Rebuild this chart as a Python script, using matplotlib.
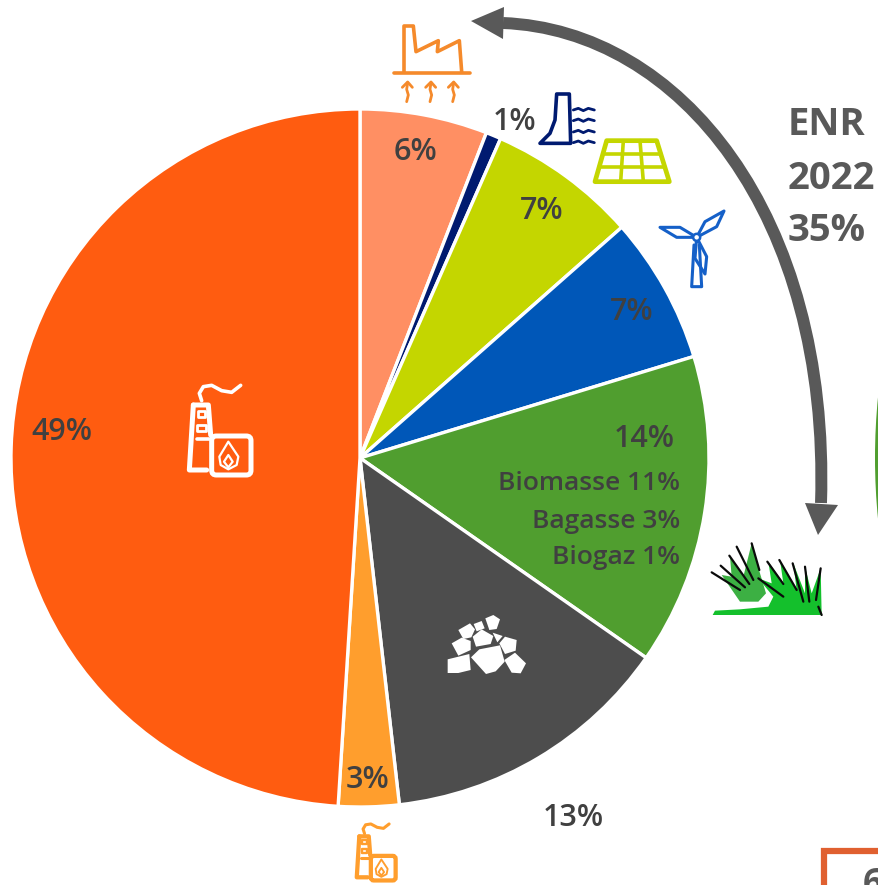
import matplotlib
matplotlib.use('Agg')
import matplotlib.pyplot as plt
from matplotlib.patches import Circle, FancyBboxPatch, PathPatch, Polygon, Rectangle
from matplotlib.path import Path
import numpy as np

# slices, clockwise from 12 o'clock
shares = [5.9, 0.7, 6.9, 6.8, 14.4, 13.5, 2.8, 49.0]
colors = ['#FF8F63', '#001A70', '#C4D600', '#0057B8', '#509E2F', '#4D4D4D', '#FF9E2D', '#FF5C10']
slice_labels = ['6%', '1%', '7%', '7%', '14%', '13%', '3%', '49%']
label_pos = [(416, 152), (515, 122), (542, 211), (632, 312), (644, 439), (573, 818), (368, 780), (62, 432)]
bio_labels = ['Biomasse 11%', 'Bagasse 3%', 'Biogaz 1%']
enr_labels = ['ENR', '2022', '35%']

TXT = '#404040'
plt.rcParams['font.family'] = ['Open Sans', 'DejaVu Sans']

W, H = 879, 885
fig = plt.figure(figsize=(8.79, 8.85), dpi=100)
ax = fig.add_axes([0, 0, 1, 1])


def fy(y):
    return H - y


def conv(points, ox=0, oy=0, s=1.0):
    return [(ox + x * s, H - (oy + y * s)) for x, y in points]


def line(points, color, lw, ox=0, oy=0, s=1.0, closed=False, z=5):
    ax.add_patch(Polygon(conv(points, ox, oy, s), closed=closed, fill=False, edgecolor=color,
                         linewidth=lw, joinstyle='round', capstyle='round', zorder=z))


def solid(points, color, ox=0, oy=0, s=1.0, z=5):
    ax.add_patch(Polygon(conv(points, ox, oy, s), closed=True, facecolor=color, edgecolor='none', zorder=z))


# main pie
ax.pie(shares, colors=colors, startangle=90, counterclock=False, center=(360, fy(458)), radius=349,
       wedgeprops={'edgecolor': 'white', 'linewidth': 2.4}, frame=True)
ax.set_xlim(0, W)
ax.set_ylim(0, H)
ax.set_aspect('auto')
ax.axis('off')

for lab, (x, y) in zip(slice_labels, label_pos):
    ax.text(x, fy(y), lab, color=TXT, fontsize=22, fontweight='semibold', ha='center', va='center', zorder=8)
for lab, y in zip(bio_labels, [484, 521, 557]):
    ax.text(680, fy(y), lab, color=TXT, fontsize=19, fontweight='semibold', ha='right', va='center', zorder=8)
for lab, y in zip(enr_labels, [125, 179, 231]):
    ax.text(788, fy(y), lab, color='#595959', fontsize=27.5, fontweight='bold', ha='left', va='center', zorder=8)

# neighbouring chart cut off by the right edge, and the box below it
ax.add_patch(Circle((875 + 620, fy(458)), 620, facecolor='#509E2F', edgecolor='none', zorder=1))
ax.add_patch(Rectangle((824, -10), 80, fy(851) + 10, fill=False, edgecolor='#E06030', linewidth=4.5, zorder=3))
ax.text(863, fy(885), '6', color='#595959', fontsize=25, fontweight='bold', ha='left', va='center', clip_on=True)

# double headed arrow
curve = Path(conv([(503, 23), (680, 30), (830, 215), (821, 503)]),
             [Path.MOVETO, Path.CURVE4, Path.CURVE4, Path.CURVE4])
ax.add_patch(PathPatch(curve, fill=False, edgecolor='#595959', linewidth=8.6, zorder=4, capstyle='butt'))
solid([(471, 21), (504, 7), (503, 39)], '#595959')
solid([(805, 503), (838, 505), (818, 535)], '#595959')

# factory with heat
FAC = '#F58A2B'
zoom1 = dict(ox=380, oy=0, s=1 / 3)
line([(72, 215), (72, 78), (100, 78), (108, 155), (175, 122), (172, 155), (238, 122), (245, 215)], FAC, 2.6, **zoom1)
line([(42, 218), (270, 218)], FAC, 2.6, **zoom1)
for hx in [80, 150, 218]:
    line([(hx, 305), (hx + 5, 285), (hx, 268), (hx + 3, 248)], FAC, 2, **zoom1)
    line([(hx - 13, 262), (hx + 3, 246), (hx + 17, 262)], FAC, 2, **zoom1)

# dam
NAVY = '#001A70'
line([(480, 430), (510, 400), (525, 360), (530, 282), (568, 282), (572, 430)], NAVY, 2.6, closed=True, **zoom1)
for wy in [330, 362, 396, 428]:
    line([(580, wy), (595, wy - 5), (610, wy + 2), (625, wy - 5), (643, wy)], NAVY, 2, **zoom1)

# solar panel
LIME = '#C4D600'
line([(680, 422), (830, 422), (868, 545), (645, 545)], LIME, 3.4, closed=True, **zoom1)
line([(668, 462), (842, 462)], LIME, 2.6, **zoom1)
line([(656, 502), (855, 502)], LIME, 2.6, **zoom1)
line([(730, 422), (722, 545)], LIME, 2.6, **zoom1)
line([(780, 422), (790, 545)], LIME, 2.6, **zoom1)

# wind turbine
BLUE = '#1560C8'
line([(950, 712), (975, 665), (1032, 633), (1010, 680)], BLUE, 2.2, closed=True, **zoom1)
line([(950, 712), (900, 682), (840, 682), (890, 712)], BLUE, 2.2, closed=True, **zoom1)
line([(950, 712), (980, 770), (975, 822), (945, 775)], BLUE, 2.2, closed=True, **zoom1)
line([(942, 735), (935, 860), (965, 860), (958, 735)], BLUE, 2.2, **zoom1)
ax.add_patch(Circle((380 + 950 / 3, fy(712 / 3)), 3.5, facecolor='white', edgecolor=BLUE, linewidth=1.8, zorder=6))

# grass
zoom2 = dict(ox=690, oy=380, s=1 / 3)
solid([(150, 665), (95, 585), (125, 590), (120, 530), (160, 590), (185, 490), (210, 580), (228, 640), (205, 665)], '#3CB043', **zoom2)
solid([(68, 705), (75, 692), (150, 688), (235, 680), (250, 650), (205, 595), (245, 610), (235, 545), (280, 610), (270, 540),
       (320, 630), (310, 550), (345, 640), (345, 560), (365, 640), (392, 565), (395, 705)], '#14C02C', **zoom2)
blades = [[(65, 577), (150, 630)], [(92, 557), (165, 622)], [(118, 527), (178, 612)], [(140, 500), (190, 600)],
          [(185, 490), (208, 570)], [(205, 595), (280, 650)], [(232, 545), (280, 612)], [(268, 540), (320, 630)],
          [(308, 550), (340, 665)], [(345, 560), (358, 665)], [(392, 565), (378, 660)], [(385, 680), (395, 705)]]
for b in blades:
    line(b, '#0A0A0A', 1.6, **zoom2)

# biomass / coal rocks
zoom4 = dict(ox=330, oy=600, s=1 / 3)
rocks = [
    [(353, 178), (418, 162), (422, 210), (385, 219), (353, 219)],
    [(423, 172), (448, 148), (510, 136), (524, 185), (497, 214), (468, 222)],
    [(523, 180), (555, 158), (588, 190), (572, 220), (545, 218)],
    [(508, 130), (525, 110), (560, 120), (557, 152), (525, 162)],
    [(365, 130), (395, 113), (422, 123), (422, 150), (385, 167)],
    [(385, 90), (420, 70), (435, 88), (424, 112), (400, 117)],
    [(428, 110), (455, 88), (490, 108), (482, 132), (438, 140)],
    [(431, 72), (455, 63), (464, 85), (440, 94)],
    [(466, 55), (490, 45), (510, 58), (500, 87), (478, 90)],
    [(488, 98), (518, 108), (502, 127)],
]
for r in rocks:
    solid(r, 'white', z=6, **zoom4)


def plant(color, ox, oy, s, lw):
    # power plant drawn in the local frame of the big icon
    line([(130, 135), (175, 135), (182, 225)], color, lw * 1.8, ox, oy, s, z=6)
    line([(130, 135), (118, 330), (170, 330)], color, lw * 1.8, ox, oy, s, z=6)
    line([(145, 152), (165, 152), (165, 172), (145, 172)], color, lw, ox, oy, s, closed=True, z=6)
    line([(142, 195), (168, 195), (168, 212), (142, 212)], color, lw, ox, oy, s, closed=True, z=6)
    line([(140, 238), (178, 238)], color, lw * 1.3, ox, oy, s, z=6)
    line([(155, 122), (148, 100), (160, 80), (185, 76), (215, 92), (245, 97), (272, 76)], color, lw * 1.3, ox, oy, s, z=6)
    x0, y0 = conv([(185, 345)], ox, oy, s)[0]
    box = FancyBboxPatch((x0, y0), 118 * s, 117 * s, boxstyle=f'round,pad=0,rounding_size={14 * s}',
                         fill=False, edgecolor=color, linewidth=lw * 1.8, zorder=6)
    ax.add_patch(box)
    line([(235, 245), (265, 290), (260, 315), (235, 328), (212, 315), (208, 290)], color, lw * 0.8, ox, oy, s, closed=True, z=6)
    line([(235, 285), (248, 305), (235, 322), (222, 305)], color, lw * 0.8, ox, oy, s, closed=True, z=6)


plant('white', 150, 360, 1 / 3, 2.0)
plant('#FF9E2D', 332, 808, 0.21, 1.7)

fig.savefig('out.png', dpi=100)
